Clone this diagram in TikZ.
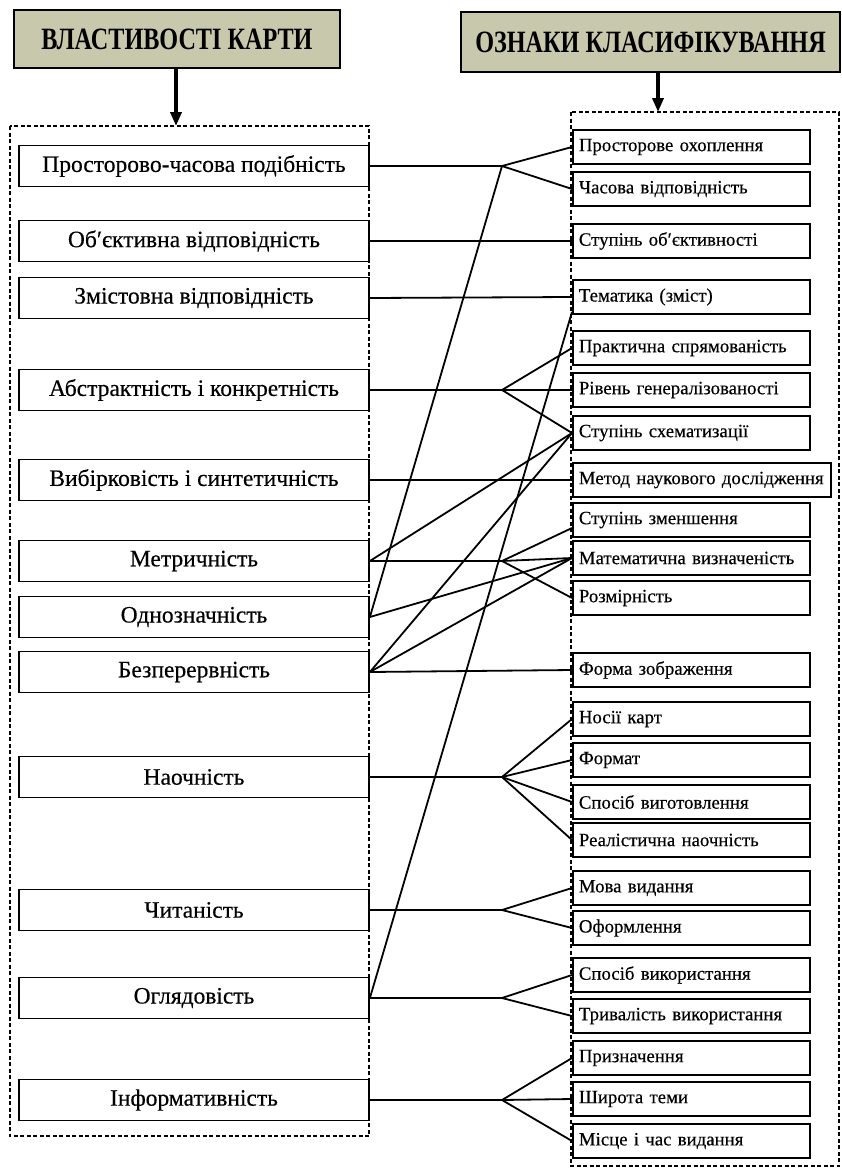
\documentclass[tikz,border=0pt]{standalone}
\usepackage{fontspec}
\setmainfont{Liberation Serif}
\newfontfamily\boxfont{Liberation Serif}[FakeBold=0.35]
\usepackage{graphicx}
\usetikzlibrary{arrows.meta,calc}
\definecolor{hdr}{RGB}{199,200,172}
\begin{document}
\begin{tikzpicture}[x=1pt,y=-1pt,
  lbox/.style={draw, fill=white, line width=1.8pt, minimum width=350pt, minimum height=41pt, inner sep=0pt, font=\boxfont\fontsize{23.5}{26}\selectfont},
  rbox/.style={draw, fill=white, line width=1.8pt, minimum height=34pt, text width=225pt, inner xsep=6pt, inner ysep=0pt, align=left, anchor=west, font=\boxfont\fontsize{18.8}{21}\selectfont},
  hdrbox/.style={draw, fill=hdr, line width=1.6pt, inner sep=0pt},
  frame/.style={line width=2.9pt, dash pattern=on 4pt off 2.5pt},
  conn/.style={line width=1.8pt},
  bigarrow/.style={line width=3.8pt, -{Triangle[length=14pt,width=11pt]}}
]
\useasboundingbox (0,0) rectangle (842,1170);
% frames
\draw[frame] (10,126) rectangle (369,1136);
\draw[frame] (571,112) rectangle (839,1166);
% headers
\node[hdrbox, minimum width=326pt, minimum height=58pt] (h1) at (177,39) {\scalebox{0.78}[1]{\fontsize{31}{33}\selectfont\bfseries ВЛАСТИВОСТІ КАРТИ}};
\node[hdrbox, minimum width=379pt, minimum height=60pt] (h2) at (650.5,42) {\scalebox{0.78}[1]{\fontsize{31}{33}\selectfont\bfseries ОЗНАКИ КЛАСИФІКУВАННЯ}};
\coordinate (a1) at (176,126);
\coordinate (a2) at (658,112);
\draw[bigarrow] (h1.south -| a1) -- (a1);
\draw[bigarrow] (h2.south -| a2) -- (a2);
% left boxes
\node[lbox] (l1) at (194,166) {Просторово-часова подібність};
\node[lbox] (l2) at (194,241) {Об′єктивна відповідність};
\node[lbox] (l3) at (194,298) {Змістовна відповідність};
\node[lbox] (l4) at (194,390) {Абстрактність і конкретність};
\node[lbox] (l5) at (194,480) {Вибірковість і синтетичність};
\node[lbox] (l6) at (194,561) {Метричність};
\node[lbox] (l7) at (194,617) {Однозначність};
\node[lbox] (l8) at (194,672) {Безперервність};
\node[lbox] (l9) at (194,777) {Наочність};
\node[lbox] (l10) at (194,910) {Читаність};
\node[lbox] (l11) at (194,998) {Оглядовість};
\node[lbox] (l12) at (194,1100) {Інформативність};
% right boxes
\node[rbox] (r1) at (572,147) {Просторове охоплення};
\node[rbox] (r2) at (572,189) {Часова відповідність};
\node[rbox] (r3) at (572,241) {Ступінь об′єктивності};
\node[rbox] (r4) at (572,297) {Тематика (зміст)};
\node[rbox] (r5) at (572,348) {Практична спрямованість};
\node[rbox] (r6) at (572,390) {Рівень генералізованості};
\node[rbox] (r7) at (572,433) {Ступінь схематизації};
\node[rbox, text width=246pt] (r8) at (572,480) {Метод наукового дослідження};
\node[rbox] (r9) at (572,520) {Ступінь зменшення};
\node[rbox] (r10) at (572,558) {Математична визначеність};
\node[rbox] (r11) at (572,598) {Розмірність};
\node[rbox] (r12) at (572,670) {Форма зображення};
\node[rbox] (r13) at (572,719) {Носії карт};
\node[rbox] (r14) at (572,760) {Формат};
\node[rbox] (r15) at (572,802) {Спосіб виготовлення};
\node[rbox] (r16) at (572,840) {Реалістична наочність};
\node[rbox] (r17) at (572,888) {Мова видання};
\node[rbox] (r18) at (572,928) {Оформлення};
\node[rbox] (r19) at (572,975) {Спосіб використання};
\node[rbox] (r20) at (572,1016) {Тривалість використання};
\node[rbox] (r21) at (572,1058) {Призначення};
\node[rbox] (r22) at (572,1099) {Широта теми};
\node[rbox] (r23) at (572,1141) {Місце і час видання};
% branch points
\coordinate (b1) at (502,166);
\coordinate (b4) at (502,390);
\coordinate (b6) at (502,561);
\coordinate (b9) at (502,777);
\coordinate (b10) at (502,910);
\coordinate (b11) at (502,998);
\coordinate (b12) at (502,1100);
% connectors
\draw[conn] (l1.east) -- (b1) -- (r1.west);
\draw[conn] (b1) -- (r2.west);
\draw[conn] (l7.east) -- (b1);
\draw[conn] (l2.east) -- (r3.west);
\draw[conn] (l3.east) -- (r4.west);
\draw[conn] (l4.east) -- (b4) -- (r5.west);
\draw[conn] (b4) -- (r6.west);
\draw[conn] (b4) -- (r7.west);
\draw[conn] (l5.east) -- (r8.west);
\draw[conn] (l6.east) -- (b6) -- ([yshift=-8pt]r9.west);
\draw[conn] (b6) -- (r10.west);
\draw[conn] (b6) -- (r11.west);
\draw[conn] (l6.east) -- (r7.west);
\draw[conn] (l7.east) -- (r10.west);
\draw[conn] (l8.east) -- (r7.west);
\draw[conn] (l8.east) -- (r10.west);
\draw[conn] (l8.east) -- (r12.west);
\draw[conn] (l9.east) -- (b9) -- (r13.west);
\draw[conn] (b9) -- (r14.west);
\draw[conn] (b9) -- (r15.west);
\draw[conn] (b9) -- (r16.west);
\draw[conn] (l10.east) -- (b10) -- (r17.west);
\draw[conn] (b10) -- (r18.west);
\draw[conn] (l11.east) -- (b11) -- (r19.west);
\draw[conn] (b11) -- (r20.west);
\draw[conn] (l11.east) -- ([yshift=3pt]r4.south west);
\draw[conn] (l12.east) -- (b12) -- (r21.west);
\draw[conn] (b12) -- (r22.west);
\draw[conn] (b12) -- (r23.west);
\end{tikzpicture}
\end{document}
